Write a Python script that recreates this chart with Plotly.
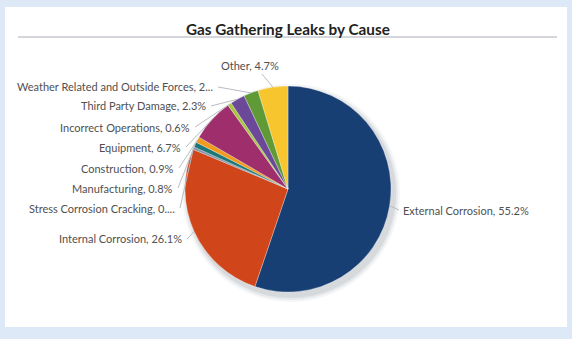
import math
import plotly.graph_objects as go

# Leak causes, in clockwise order from 12 o'clock
causes = [
    "External Corrosion", "Internal Corrosion", "Stress Corrosion Cracking",
    "Manufacturing", "Construction", "Equipment", "Incorrect Operations",
    "Third Party Damage", "Weather Related and Outside Forces", "Other",
]
shares = [55.2, 26.1, 0.4, 0.8, 0.9, 6.7, 0.6, 2.3, 2.3, 4.7]
label_texts = [
    "External Corrosion, 55.2%", "Internal Corrosion, 26.1%",
    "Stress Corrosion Cracking, 0....", "Manufacturing, 0.8%",
    "Construction, 0.9%", "Equipment, 6.7%", "Incorrect Operations, 0.6%",
    "Third Party Damage, 2.3%", "Weather Related and Outside Forces, 2...",
    "Other, 4.7%",
]
colors = ["#183f74", "#d0451a", "#8793a6", "#1d7677", "#f09a1e",
          "#9e2f6c", "#a9c63f", "#6b4898", "#5f9a37", "#f7c52d"]

W, H = 572, 339
# pie placement in pixels
CX, CY, R = 288, 189, 103

# label anchor points (pixels): x, y, horizontal anchor
label_pos = [
    (401, 210, "left"), (184, 239, "right"), (177, 208, "right"),
    (175, 188, "right"), (176, 168, "right"), (183, 147, "right"),
    (192, 127, "right"), (208, 106, "right"), (215, 87, "right"),
    (250, 66, "center"),
]


def px(x):
    return x / W


def py(y):
    return 1 - y / H


fig = go.Figure()
fig.add_trace(go.Pie(
    labels=causes, values=shares, sort=False, direction="clockwise",
    rotation=0, textinfo="none", hoverinfo="label+percent",
    marker=dict(colors=colors, line=dict(color="rgba(255,255,255,0.5)", width=0.6)),
    domain=dict(x=[px(CX - R), px(CX + R)], y=[py(CY + R), py(CY - R)]),
    showlegend=False,
))

shapes = [
    # white panel
    dict(type="rect", xref="paper", yref="paper", x0=px(5), x1=px(567),
         y0=py(327), y1=py(7), fillcolor="white", line=dict(width=0), layer="below"),
    # rule under the title
    dict(type="line", xref="paper", yref="paper", x0=px(18), x1=px(557),
         y0=py(37), y1=py(37), line=dict(color="#d4d6dc", width=2)),
]
# soft drop shadow under the pie
for grow, alpha in [(6, 0.05), (4, 0.07), (2, 0.09)]:
    shapes.append(dict(
        type="circle", xref="paper", yref="paper", layer="below",
        x0=px(CX - R - grow + 3), x1=px(CX + R + grow + 3),
        y0=py(CY + R + grow + 4), y1=py(CY - R - grow + 4),
        fillcolor=f"rgba(60,70,90,{alpha})", line=dict(width=0)))

annotations = [dict(
    text="<b>Gas Gathering Leaks by Cause</b>", x=px(288), y=py(28.5),
    xref="paper", yref="paper", showarrow=False, xanchor="center", yanchor="middle",
    font=dict(family="Lato", size=15.3, color="#222"))]

total = sum(shares)
cum = 0.0
for val, text, (lx, ly, anchor) in zip(shares, label_texts, label_pos):
    mid = (cum + val / 2) / total
    cum += val
    ang = 2 * math.pi * mid
    ex, ey = CX + R * math.sin(ang), CY - R * math.cos(ang)
    if anchor == "left":
        sx, sy = lx - 2, ly
    elif anchor == "right":
        sx, sy = lx + 3, ly
    else:
        sx, sy = lx + 12, ly + 8
    shapes.append(dict(type="line", xref="paper", yref="paper",
                       x0=px(sx), y0=py(sy), x1=px(ex), y1=py(ey),
                       line=dict(color="#b9bcc2", width=1)))
    annotations.append(dict(
        text=text, x=px(lx), y=py(ly), xref="paper", yref="paper",
        showarrow=False, xanchor=anchor, yanchor="middle",
        font=dict(family="Lato", size=11, color="#505050")))

fig.update_layout(
    width=W, height=H, margin=dict(l=0, r=0, t=0, b=0),
    paper_bgcolor="#dde9f6", plot_bgcolor="white",
    shapes=shapes, annotations=annotations,
)

fig.write_html("out.html")
